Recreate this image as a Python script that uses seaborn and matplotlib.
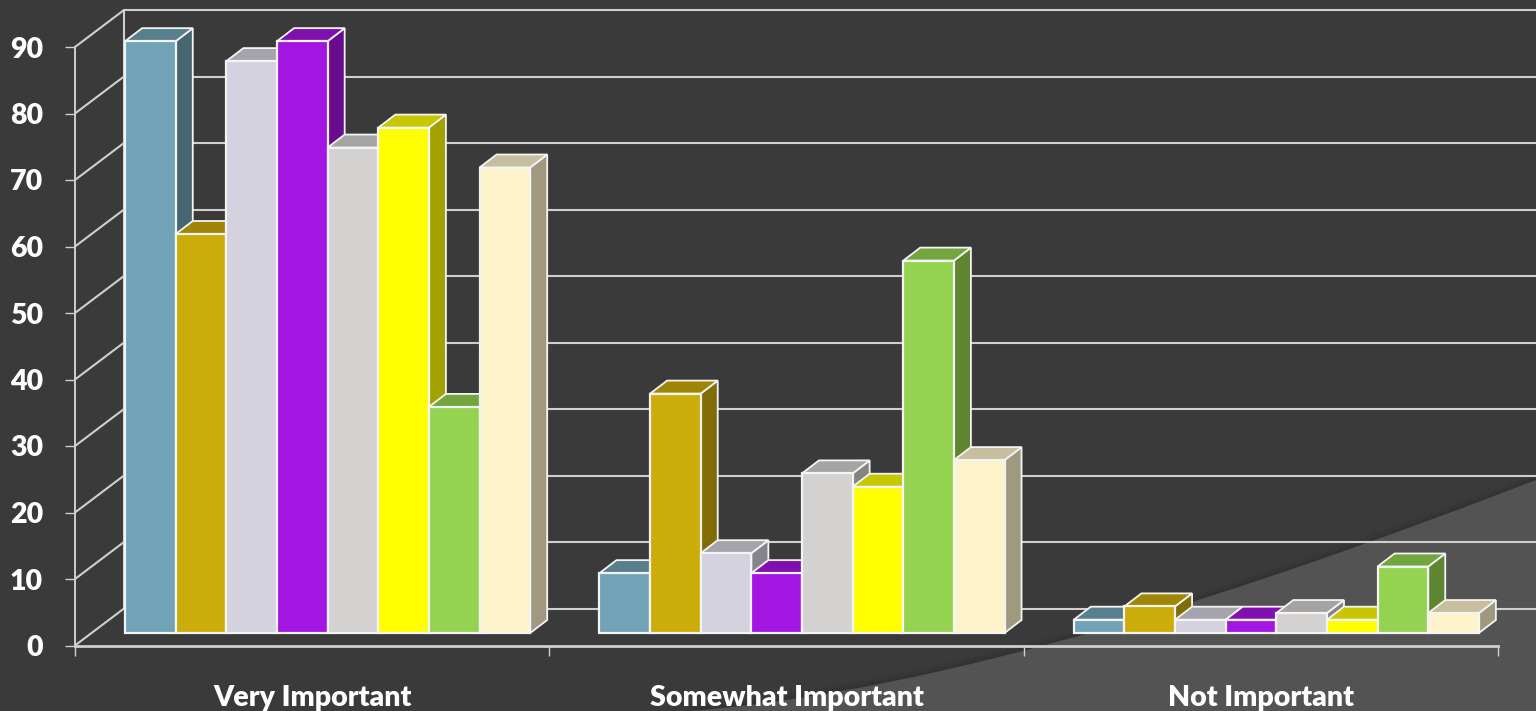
import numpy as np
import pandas as pd
import matplotlib
matplotlib.use("Agg")
import matplotlib.pyplot as plt
from matplotlib.colors import to_rgb
from matplotlib.patches import PathPatch, Polygon
from matplotlib.path import Path
from matplotlib.transforms import Affine2D
import seaborn as sns

# ---- data ----
categories = ["Very Important", "Somewhat Important", "Not Important"]
series_names = ["Series 1", "Series 2", "Series 3", "Series 4",
                "Series 5", "Series 6", "Series 7", "Series 8"]
series_1 = [89, 9, 2]
series_2 = [60, 36, 4]
series_3 = [86, 12, 2]
series_4 = [89, 9, 2]
series_5 = [73, 24, 3]
series_6 = [76, 22, 2]
series_7 = [34, 56, 10]
series_8 = [70, 26, 3]
all_series = [series_1, series_2, series_3, series_4,
              series_5, series_6, series_7, series_8]
y_ticks = [0, 10, 20, 30, 40, 50, 60, 70, 80, 90]

# ---- style ----
BG = "#3A3A3A"
SWOOSH = "#535353"
LINE = "#CFCFCF"
EDGE = "#F4F4F4"
palette = ["#6FA3B5", "#CCAC08", "#D3D2DE", "#A315E0",
           "#D3D2D0", "#FFFF00", "#93D350", "#FEF3CB"]
TOP_SHADE = 0.78
SIDE_SHADE = 0.63

W, H = 1536, 711
sns.set_theme(style="ticks", rc={
    "figure.facecolor": BG, "axes.facecolor": "none", "savefig.facecolor": BG,
    "axes.edgecolor": LINE, "xtick.color": LINE, "ytick.color": LINE,
    "text.color": "white",
})
plt.rcParams["font.family"] = ["Lato", "DejaVu Sans"]

df = pd.DataFrame({
    "category": [c for _ in series_names for c in categories],
    "series": [s for s in series_names for _ in categories],
    "value": [v for vals in all_series for v in vals],
})

fig = plt.figure(figsize=(W / 100, H / 100), dpi=100)
ax = fig.add_axes([75 / W, (H - 645.5) / H, 1423 / W, 598.5 / H], zorder=2)

sns.barplot(data=df, x="category", y="value", hue="series",
            hue_order=series_names, order=categories, palette=palette,
            width=0.854, gap=0, dodge=True, legend=False,
            edgecolor=EDGE, linewidth=1.6, saturation=1, ax=ax)
ax.set_xlim(-0.5, 2.5)
ax.set_ylim(0, 90)

# ---- pseudo-3D geometry, in pixels then in data units ----
units_x = 1423 / 3          # px per category
units_y = 598.5 / 90        # px per value
wall_dx, wall_dy = 49 / units_x, 37 / units_y
depth_dx, depth_dy = 17 / units_x, 13 / units_y
bar_tf = ax.transData + Affine2D().translate(15.5, 12.5)

# back wall + side wall
for t in y_ticks:
    ax.plot([-0.5 + wall_dx, 3.2], [t + wall_dy, t + wall_dy], color=LINE, lw=1.5,
            clip_on=False, zorder=1, solid_capstyle="butt")
    ax.plot([-0.5, -0.5 + wall_dx], [t, t + wall_dy], color=LINE, lw=1.5,
            clip_on=False, zorder=1)
ax.plot([-0.5 + wall_dx, -0.5 + wall_dx], [wall_dy, 90 + wall_dy], color=LINE, lw=1.5,
        clip_on=False, zorder=1)

# bars, painted left to right: side, top, front
bars = sorted([p for p in ax.patches if p.get_height() > 0], key=lambda p: p.get_x())
for i, bar in enumerate(bars):
    z = 3 + i * 3
    x0, w, h = bar.get_x(), bar.get_width(), bar.get_height()
    rgb = np.array(to_rgb(bar.get_facecolor()))
    bar.set_transform(bar_tf)
    bar.set_zorder(z + 2)
    bar.set_clip_on(False)
    bar.set_joinstyle("miter")
    side = Polygon([(x0 + w, 0), (x0 + w + depth_dx, depth_dy),
                    (x0 + w + depth_dx, h + depth_dy), (x0 + w, h)],
                   closed=True, facecolor=rgb * SIDE_SHADE, edgecolor=EDGE, lw=1.3,
                   transform=bar_tf, zorder=z, clip_on=False)
    top = Polygon([(x0, h), (x0 + w, h), (x0 + w + depth_dx, h + depth_dy),
                   (x0 + depth_dx, h + depth_dy)],
                  closed=True, facecolor=rgb * TOP_SHADE, edgecolor=EDGE, lw=1.3,
                  transform=bar_tf, zorder=z + 1, clip_on=False)
    ax.add_patch(side)
    ax.add_patch(top)

# ---- axes ----
ax.set_xlabel("")
ax.set_ylabel("")
ax.set_yticks(y_ticks)
ax.set_xticks([-0.5, 0.5, 1.5, 2.5], labels=[])
ax.set_xticks([0, 1, 2], labels=categories, minor=True)
ax.tick_params(axis="x", which="major", length=7.5, width=1.0, color=LINE)
ax.tick_params(axis="x", which="minor", length=0, pad=28.5, labelsize=20.5,
               labelcolor="white")
ax.tick_params(axis="y", length=7.5, width=1.0, pad=15.5, labelsize=20.5,
               labelcolor="white")
for lab in ax.get_yticklabels() + ax.get_xticklabels(minor=True):
    lab.set_fontweight("heavy")
sns.despine(ax=ax, top=True, right=True)
ax.spines["left"].set_linewidth(1.4)
ax.spines["bottom"].set_linewidth(2.0)

# ---- background swoosh ----
def px(x, y):
    return (x / W, 1 - y / H)

for shift, col in zip([7, 5, 3, 1], ["#383838", "#363636", "#343434", "#323232"]):
    fig.add_artist(PathPatch(
        Path([px(690, 711 - shift), px(950, 690 - shift), px(1250, 590 - shift),
              px(1536, 480 - shift), px(1536, 711), px(690, 711), px(690, 711)],
             [Path.MOVETO, Path.CURVE4, Path.CURVE4, Path.CURVE4,
              Path.LINETO, Path.LINETO, Path.CLOSEPOLY]),
        facecolor=col, edgecolor="none", transform=fig.transFigure, zorder=0))
fig.add_artist(PathPatch(
    Path([px(690, 711), px(950, 690), px(1250, 590), px(1536, 480),
          px(1536, 711), px(690, 711), px(690, 711)],
         [Path.MOVETO, Path.CURVE4, Path.CURVE4, Path.CURVE4,
          Path.LINETO, Path.LINETO, Path.CLOSEPOLY]),
    facecolor=SWOOSH, edgecolor="none", transform=fig.transFigure, zorder=0.1))

fig.savefig("out.png", dpi=100)
